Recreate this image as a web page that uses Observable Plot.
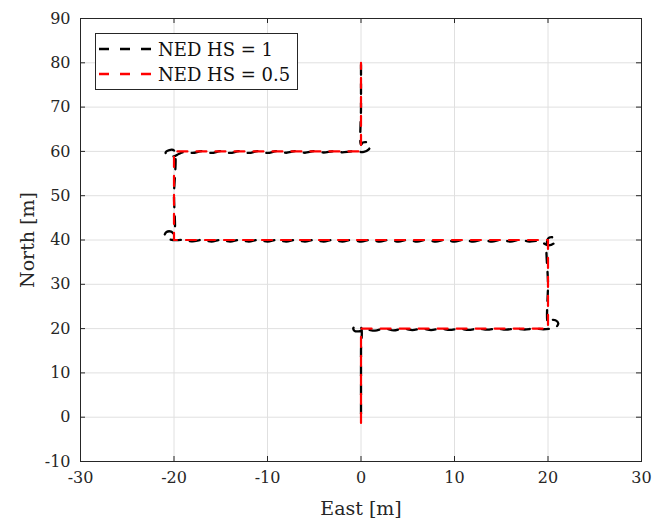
<!DOCTYPE html>
<html>
<head>
<meta charset="utf-8">
<script src="https://cdn.jsdelivr.net/npm/d3@7"></script>
<script src="https://cdn.jsdelivr.net/npm/@observablehq/plot@0.6"></script>
<style>
  html, body { margin: 0; padding: 0; background: #fff; }
  #wrap { position: relative; width: 666px; height: 521px; }
  #legend { position: absolute; left: 95px; top: 33px; width: 201px; height: 55px;
    border: 1px solid #262626; background: #fff; font-family: "DejaVu Serif", serif; font-size: 18px; color: #111; }
  .row { position: absolute; left: 3px; height: 22px; display: flex; align-items: center; white-space: pre; }
  .row svg { margin-right: 5px; }
</style>
</head>
<body>
<div id="wrap"></div>
<script>
// Tick values
const xTicks = [-30, -20, -10, 0, 10, 20, 30];
const yTicks = [-10, 0, 10, 20, 30, 40, 50, 60, 70, 80, 90];

// Series names
const seriesNames = ["NED HS = 1", "NED HS = 0.5"];
const seriesColors = ["#000000", "#ff0000"];

// NED HS = 1 (black) path, east [m]
const hs1East = [
  0, 0, 0, 0, 0,
  -0.3, -0.8, -0.7, -0.1, 0.5,
  1.5, 2.5, 3.5, 4.5, 5.5, 6.5, 7.5, 8.5, 9.5, 10.5, 11.5, 12.5, 13.5, 14.5, 15.5, 16.5, 17.5, 18.5, 19.5,
  20.3, 20.9, 21.1, 20.8, 20.3, 20.0,
  20.0, 20.0,
  20.5, 20.8, 20.6, 20.0, 19.5, 19.0,
  18, 17, 16, 15, 14, 13, 12, 11, 10, 9, 8, 7, 6, 5, 4, 3, 2, 1, 0,
  -1, -2, -3, -4, -5, -6, -7, -8, -9, -10, -11, -12, -13, -14, -15, -16, -17, -18, -19,
  -20.1, -20.7, -21.0, -20.8, -20.3, -20.0,
  -20.0, -20.0,
  -20.5, -20.9, -20.6, -20.0, -19.5, -19.0,
  -18, -17, -16, -15, -14, -13, -12, -11, -10, -9, -8, -7, -6, -5, -4, -3, -2, -1,
  0.3, 0.8, 1.0, 0.7, 0.2, 0.0,
  0.0, 0.0
];
// NED HS = 1 (black) path, north [m]
const hs1North = [
  -1.3, 5, 10, 15, 20.3,
  20.6, 20.2, 19.5, 19.4, 19.8,
  19.55, 20.0, 19.6, 20.0, 19.65, 20.0, 19.65, 20.0, 19.7, 20.0, 19.7, 20.0, 19.75, 20.0, 19.75, 20.0, 19.8, 20.0, 19.85,
  20.0, 20.4, 21.2, 21.9, 21.9, 21.3,
  30, 40.3,
  40.6, 40.1, 39.2, 38.8, 39.3, 39.8,
  39.65, 40.05, 39.65, 40.05, 39.65, 40.05, 39.65, 40.05, 39.65, 40.05, 39.65, 40.05, 39.65, 40.05, 39.65, 40.05, 39.65, 40.05, 39.65,
  40.05, 39.65, 40.05, 39.65, 40.05, 39.65, 40.05, 39.65, 40.05, 39.65, 40.05, 39.65, 40.05, 39.65, 40.05, 39.65, 40.05, 39.7, 40.0,
  40.0, 40.3, 41.0, 41.8, 41.9, 41.4,
  50, 60.2,
  60.3, 59.7, 59.0, 58.9, 59.4, 59.8,
  59.65, 60.05, 59.65, 60.05, 59.65, 60.05, 59.65, 60.05, 59.65, 60.05, 59.7, 60.05, 59.7, 60.05, 59.75, 60.0, 59.8, 60.0,
  59.9, 60.4, 61.3, 62.0, 62.0, 61.5,
  70, 80
];

// NED HS = 0.5 (red) path
const hs05East  = [0, 0, 20, 20, -20, -20, 0, 0];
const hs05North = [-1.3, 20, 20, 40, 40, 60, 60, 80];

const hs1 = hs1East.map((e, i) => ({east: e, north: hs1North[i]}));
const hs05 = hs05East.map((e, i) => ({east: e, north: hs05North[i]}));

const axisColor = "#262626";
const fmt = d => String(d);
const plotW = 666 - 80 - 25, plotH = 521 - 18 - 60, tk = 5;

const chart = Plot.plot({
  width: 666,
  height: 521,
  marginLeft: 80,
  marginRight: 25,
  marginTop: 18,
  marginBottom: 60,
  style: {fontFamily: "DejaVu Serif, serif", fontSize: "16px", color: axisColor, background: "#fff"},
  x: {domain: [-30, 30]},
  y: {domain: [-10, 90]},
  marks: [
    Plot.gridX(xTicks, {stroke: "#e0e0e0", strokeOpacity: 1}),
    Plot.gridY(yTicks, {stroke: "#e0e0e0", strokeOpacity: 1}),
    Plot.line(hs1, {x: "east", y: "north", stroke: seriesColors[0], strokeWidth: 2.3, strokeDasharray: "10,9", strokeDashoffset: 10, curve: "catmull-rom"}),
    Plot.line(hs05, {x: "east", y: "north", stroke: seriesColors[1], strokeWidth: 2.2, strokeDasharray: "10,9"}),
    Plot.frame({stroke: axisColor}),
    Plot.tickX(xTicks, {x: d => d, insetTop: plotH - tk, stroke: axisColor}),
    Plot.tickX(xTicks, {x: d => d, insetBottom: plotH - tk, stroke: axisColor}),
    Plot.tickY(yTicks, {y: d => d, insetRight: plotW - tk, stroke: axisColor}),
    Plot.tickY(yTicks, {y: d => d, insetLeft: plotW - tk, stroke: axisColor}),
    Plot.axisX(xTicks, {tickSize: 0, tickPadding: 10, tickFormat: fmt, label: null, fontSize: 16}),
    Plot.axisX({tickSize: 0, ticks: [], label: "East [m]", labelArrow: "none", labelAnchor: "center", labelOffset: 53, fontSize: 19}),
    Plot.axisY(yTicks, {tickSize: 0, tickPadding: 10, tickFormat: fmt, label: null, fontSize: 16}),
    Plot.axisY({tickSize: 0, ticks: [], label: "North [m]", labelArrow: "none", labelAnchor: "center", labelOffset: 60, fontSize: 19})
  ]
});

const wrap = document.getElementById("wrap");
wrap.appendChild(chart);

// Legend
const legend = document.createElement("div");
legend.id = "legend";
seriesNames.forEach((name, i) => {
  const row = document.createElement("div");
  row.className = "row";
  row.style.top = (i === 0 ? 4 : 29) + "px";
  row.innerHTML = `<svg width="54" height="6"><line x1="0" y1="3" x2="54" y2="3" stroke="${seriesColors[i]}" stroke-width="2.5" stroke-dasharray="10,11"/></svg><span>${name}</span>`;
  legend.appendChild(row);
});
wrap.appendChild(legend);
</script>
</body>
</html>
